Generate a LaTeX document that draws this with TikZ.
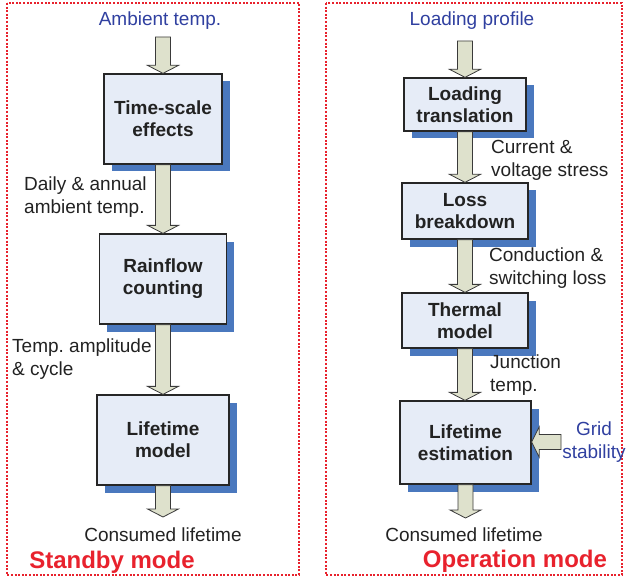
\documentclass[tikz,border=0pt]{standalone}
\usepackage{fontspec}
\setmainfont{Liberation Sans}
\usetikzlibrary{calc,shadows}
\frenchspacing
\definecolor{boxfill}{HTML}{E6ECF7}
\definecolor{shadowblue}{HTML}{4A78BE}
\definecolor{arrfill}{HTML}{DEE1CC}
\definecolor{arrdraw}{HTML}{3A3A3A}
\definecolor{txtblue}{HTML}{3040A0}
\definecolor{modered}{HTML}{E8222D}
\definecolor{boxtext}{HTML}{222222}
\tikzset{
  procbox/.style={draw=black!85, line width=1.3pt, fill=boxfill, inner sep=0pt,
    align=center, text=boxtext, font=\fontsize{19}{22}\selectfont\bfseries,
    general shadow={fill=shadowblue, shadow xshift=7.5pt, shadow yshift=-7.5pt}},
  lbl/.style={inner sep=0pt, font=\fontsize{19}{23}\selectfont, text=boxtext},
  lblleft/.style={lbl, align=left, anchor=west},
  inlbl/.style={lbl, text=txtblue, align=center},
  modelbl/.style={inner sep=0pt, font=\fontsize{24}{28}\selectfont\bfseries, text=modered},
  frame/.style={draw=modered, line width=1.3pt, dash pattern=on 2pt off 1.6pt},
  blockarr/.style={fill=arrfill, draw=arrdraw, line width=0.8pt, line join=miter}
}
\newcommand\vblock[2]{%
  \path[blockarr] let \p1=#1, \p2=#2 in
    (\x1-7.5pt,\y1) -- (\x1-7.5pt,\y2+8pt) -- (\x1-15.5pt,\y2+8pt) -- (\x1,\y2)
    -- (\x1+15.5pt,\y2+8pt) -- (\x1+7.5pt,\y2+8pt) -- (\x1+7.5pt,\y1) -- cycle;}
\newcommand\hblock[2]{%
  \path[blockarr] let \p1=#1, \p2=#2 in
    (\x1,\y1+7.5pt) -- (\x2+7.5pt,\y1+7.5pt) -- (\x2+7.5pt,\y1+15pt) -- (\x2,\y1)
    -- (\x2+7.5pt,\y1-15pt) -- (\x2+7.5pt,\y1-7.5pt) -- (\x1,\y1-7.5pt) -- cycle;}
\begin{document}
\begin{tikzpicture}[x=1pt,y=-1pt]
\useasboundingbox (0,0) rectangle (626,580);
% frames
\draw[frame] (7,3) rectangle (299,575);
\draw[frame] (326,3) rectangle (622,575);

% ---- Standby mode ----
\node[inlbl] (amb) at (160,21) {Ambient temp.};
\coordinate (a0) at (163,37);
\node[procbox, minimum width=118pt, minimum height=90pt] (b1) at (163,119) {Time-scale\\effects};
\node[procbox, minimum width=127pt, minimum height=90pt] (b2) at (163,279) {Rainflow\\counting};
\node[procbox, minimum width=132pt, minimum height=90pt] (b3) at (163,440) {Lifetime\\model};
\coordinate (aout) at (163,517);
\node[lblleft] (l1) at (24,197) {Daily \& annual\\ambient temp.};
\node[lblleft] (l2) at (12,359) {Temp. amplitude\\\& cycle};
\node[lbl] (c1) at (163,535) {Consumed lifetime};
\node[modelbl] (m1) at (112,562) {Standby mode};

\vblock{(a0)}{(b1.north)}
\vblock{(b1.south)}{(b2.north)}
\vblock{(b2.south)}{(b3.north)}
\vblock{(b3.south)}{(aout)}

% ---- Operation mode ----
\node[inlbl] (lp) at (472,21) {Loading profile};
\coordinate (r0) at (465,41);
\node[procbox, minimum width=122pt, minimum height=53pt] (r1) at (465,104.5) {Loading\\translation};
\node[procbox, minimum width=126pt, minimum height=56pt] (r2) at (465,211) {Loss\\breakdown};
\node[procbox, minimum width=126pt, minimum height=55pt] (r3) at (465,320.5) {Thermal\\model};
\node[procbox, minimum width=131pt, minimum height=83pt] (r4) at (465.5,442.5) {Lifetime\\estimation};
\coordinate (rout) at (465.5,518);
\coordinate (g0) at (561,442);
\node[lblleft] (l3) at (491,160) {Current \&\\voltage stress};
\node[lblleft] (l4) at (489,268.5) {Conduction \&\\switching loss};
\node[lblleft] (l5) at (490,375) {Junction\\temp.};
\node[inlbl] (gs) at (594,442) {Grid\\stability};
\node[lbl] (c2) at (464,535) {Consumed lifetime};
\node[modelbl] (m2) at (515,561) {Operation mode};

\vblock{(r0)}{(r1.north)}
\vblock{(r1.south)}{(r2.north)}
\vblock{(r2.south)}{(r3.north)}
\vblock{(r3.south)}{(r4.north)}
\vblock{(r4.south)}{(rout)}
\hblock{(g0)}{(r4.east)}
\end{tikzpicture}
\end{document}
